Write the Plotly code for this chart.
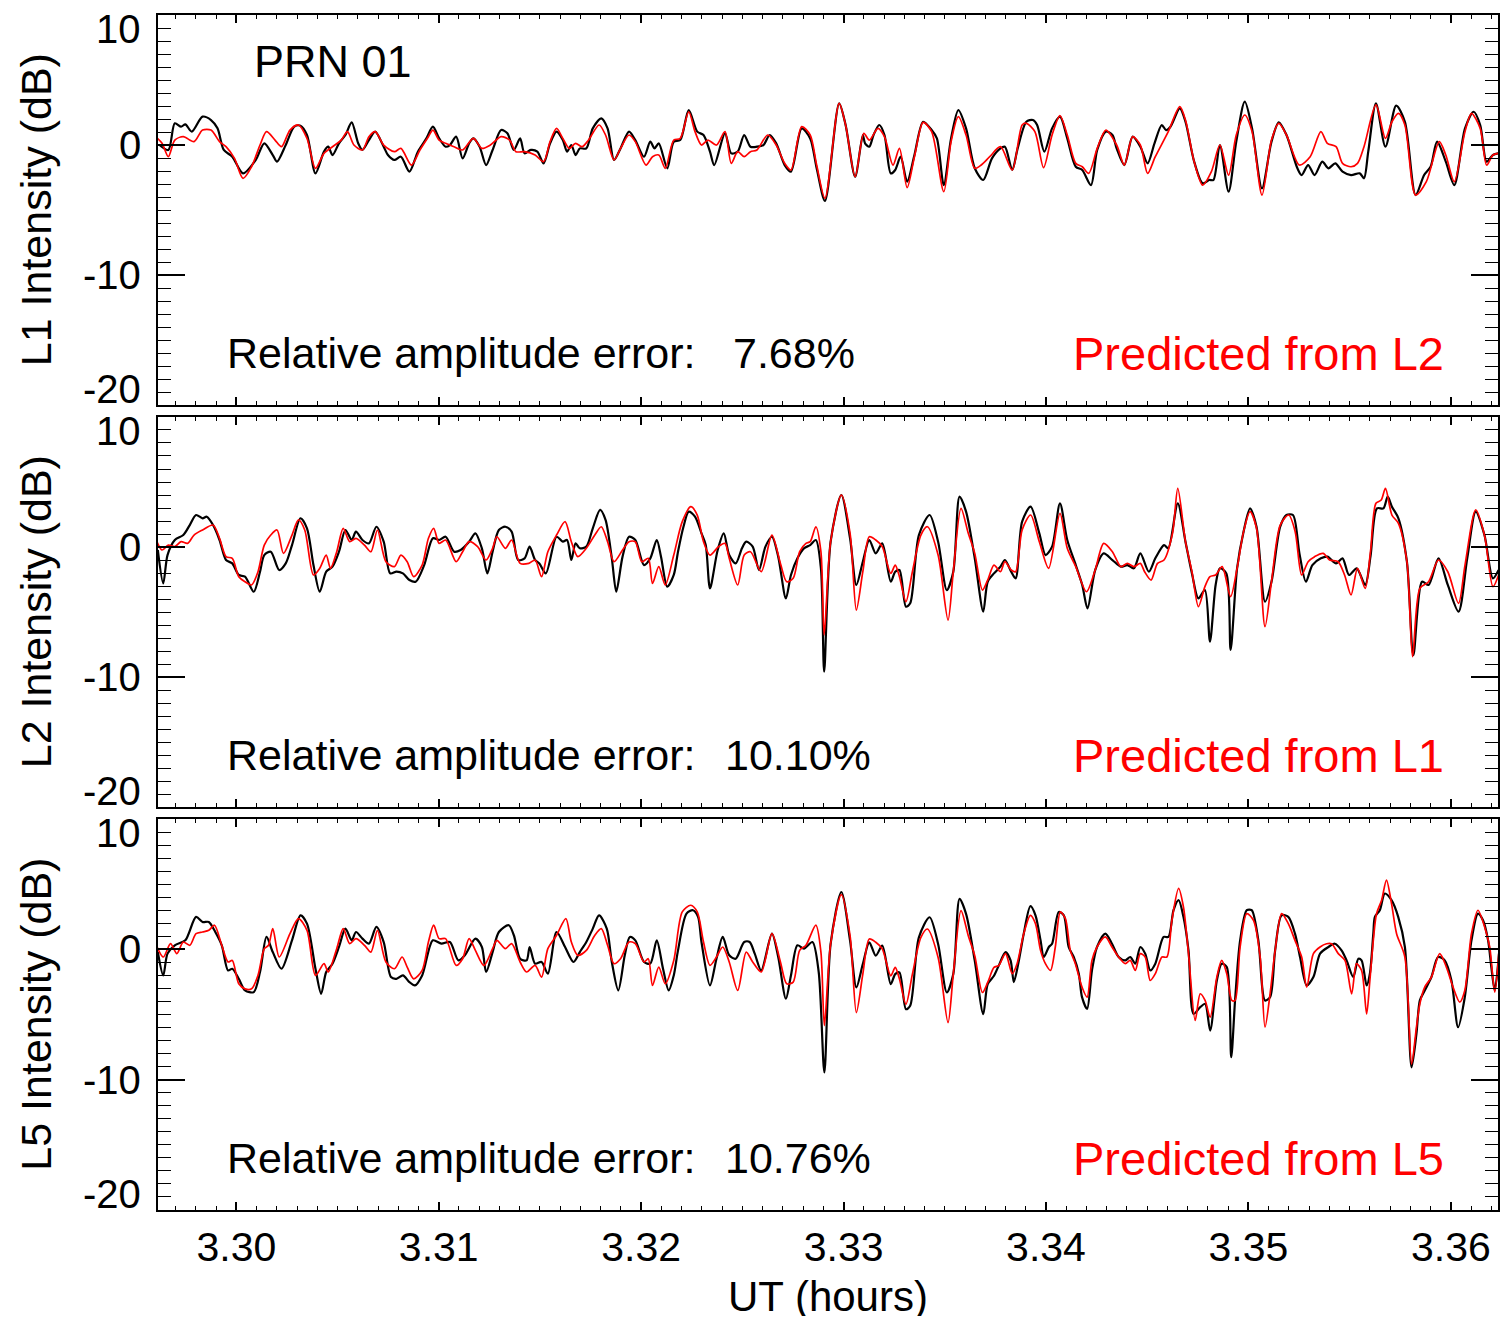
import plotly.graph_objects as go
from plotly.subplots import make_subplots

# ---------------- data (UT hours, dB) ----------------
L1_MEAS = [
(3.29620,0.00),(3.29664,-0.38),(3.29696,1.67),(3.29727,1.41),(3.29748,1.59),(3.29780,1.03),(3.29833,2.18),(3.29875,1.92),
(3.29907,1.28),(3.29938,-0.38),(3.29980,-0.90),(3.30033,-2.18),(3.30096,-1.15),(3.30138,0.13),(3.30180,-0.77),(3.30201,-1.28),
(3.30244,0.00),(3.30286,1.41),(3.30317,1.49),(3.30349,0.77),(3.30391,-2.18),(3.30433,-0.51),(3.30454,-0.13),(3.30475,-0.77),
(3.30507,0.13),(3.30539,0.77),(3.30570,1.74),(3.30602,0.13),(3.30623,-0.38),(3.30655,0.38),(3.30686,1.03),(3.30728,-0.13),
(3.30749,-0.77),(3.30781,-1.15),(3.30813,-0.90),(3.30855,-2.05),(3.30897,-0.51),(3.30939,0.51),(3.30971,1.41),(3.31002,0.51),
(3.31034,-0.13),(3.31055,0.00),(3.31086,0.64),(3.31118,-1.03),(3.31150,0.13),(3.31171,0.51),(3.31202,-0.13),(3.31234,-1.54),
(3.31266,-0.38),(3.31308,1.15),(3.31339,0.90),(3.31371,-0.38),(3.31402,0.51),(3.31424,-0.64),(3.31455,-0.38),(3.31487,-0.51),
(3.31518,-1.41),(3.31550,0.13),(3.31582,1.03),(3.31613,0.38),(3.31634,-0.51),(3.31655,0.00),(3.31676,-0.77),(3.31697,-0.26),
(3.31729,-0.26),(3.31761,1.28),(3.31803,2.05),(3.31834,1.28),(3.31866,-1.15),(3.31898,-0.26),(3.31940,1.03),(3.31971,0.38),
(3.32014,-0.90),(3.32045,0.26),(3.32066,-0.26),(3.32087,0.13),(3.32129,-1.79),(3.32161,0.26),(3.32193,0.38),(3.32235,2.69),
(3.32277,1.03),(3.32308,0.77),(3.32340,-0.51),(3.32361,-1.54),(3.32414,0.90),(3.32445,-0.64),(3.32477,-0.51),(3.32509,0.77),
(3.32540,-0.13),(3.32572,-0.13),(3.32604,0.00),(3.32635,0.77),(3.32667,0.13),(3.32709,-1.54),(3.32740,-2.05),(3.32793,1.28),
(3.32835,0.51),(3.32867,-1.79),(3.32908,-4.30),(3.32978,3.21),(3.33010,1.54),(3.33057,-2.44),(3.33095,0.77),(3.33106,0.13),
(3.33127,-0.13),(3.33148,0.77),(3.33176,1.54),(3.33202,0.77),(3.33233,-2.18),(3.33255,-1.92),(3.33282,-0.90),(3.33314,-2.82),
(3.33350,-0.77),(3.33393,1.79),(3.33435,1.15),(3.33461,0.51),(3.33495,-3.08),(3.33531,0.51),(3.33567,2.69),(3.33605,1.28),
(3.33648,-1.79),(3.33690,-2.69),(3.33733,-1.03),(3.33775,-0.26),(3.33797,-0.13),(3.33833,-1.92),(3.33860,-0.26),(3.33903,1.79),
(3.33935,1.92),(3.33956,1.54),(3.33992,-0.51),(3.34030,1.28),(3.34069,2.18),(3.34105,0.51),(3.34147,-1.67),(3.34179,-1.92),
(3.34222,-3.08),(3.34253,-0.38),(3.34296,1.03),(3.34328,0.77),(3.34349,-0.26),(3.34387,-1.54),(3.34428,0.64),(3.34466,-0.13),
(3.34502,-1.41),(3.34536,0.13),(3.34572,1.54),(3.34593,1.15),(3.34615,1.41),(3.34661,2.82),(3.34689,1.79),(3.34732,-1.28),
(3.34774,-2.95),(3.34806,-2.69),(3.34827,-2.69),(3.34859,0.00),(3.34902,-3.59),(3.34940,0.26),(3.34982,3.33),(3.35018,1.28),
(3.35067,-3.33),(3.35114,0.26),(3.35150,1.74),(3.35188,0.77),(3.35242,-1.79),(3.35263,-2.31),(3.35295,-1.54),(3.35327,-2.31),
(3.35365,-1.28),(3.35395,-1.79),(3.35429,-1.41),(3.35465,-2.05),(3.35507,-2.31),(3.35550,-2.18),(3.35571,-2.56),(3.35592,-0.51),
(3.35630,3.21),(3.35677,-0.13),(3.35730,3.03),(3.35773,1.79),(3.35826,-3.85),(3.35868,-2.31),(3.35900,-1.67),(3.35932,0.26),
(3.35975,-1.28),(3.36017,-3.08),(3.36070,1.28),(3.36113,2.56),(3.36145,1.54),(3.36177,-1.28),(3.36208,-0.77),(3.36236,-0.64),
]

L1_PRED = [
(3.29601,0.64),(3.29633,0.13),(3.29664,-0.90),(3.29696,0.38),(3.29738,0.64),(3.29791,0.26),(3.29833,1.15),(3.29875,1.15),
(3.29917,0.26),(3.29949,-0.13),(3.29991,-1.03),(3.30033,-2.56),(3.30075,-1.67),(3.30117,0.00),(3.30149,1.03),(3.30191,0.38),
(3.30223,-0.13),(3.30265,1.15),(3.30307,1.54),(3.30349,0.51),(3.30391,-1.79),(3.30433,-0.64),(3.30475,-0.13),(3.30518,0.38),
(3.30549,1.03),(3.30581,0.00),(3.30623,-0.38),(3.30655,0.64),(3.30686,1.03),(3.30728,0.00),(3.30781,-0.51),(3.30813,-0.26),
(3.30865,-1.54),(3.30907,-0.38),(3.30949,0.64),(3.30971,1.15),(3.31002,0.38),(3.31034,0.13),(3.31076,-0.13),(3.31118,-0.38),
(3.31171,0.51),(3.31213,-0.26),(3.31255,0.00),(3.31308,0.64),(3.31350,0.38),(3.31381,-0.51),(3.31424,-0.51),(3.31476,-0.77),
(3.31518,-1.28),(3.31550,0.26),(3.31582,1.28),(3.31613,0.51),(3.31645,-0.26),(3.31676,0.13),(3.31708,-0.13),(3.31740,0.38),
(3.31792,1.54),(3.31824,0.77),(3.31866,-1.15),(3.31898,-0.26),(3.31940,0.77),(3.31971,0.26),(3.32024,-1.54),(3.32056,-0.90),
(3.32087,-0.77),(3.32119,-1.79),(3.32161,0.38),(3.32193,0.51),(3.32235,2.56),(3.32266,1.03),(3.32298,0.00),(3.32330,0.38),
(3.32372,0.00),(3.32414,1.03),(3.32445,-1.41),(3.32477,-0.51),(3.32509,-0.90),(3.32540,-0.51),(3.32572,-0.38),(3.32625,0.77),
(3.32667,0.00),(3.32709,-1.41),(3.32740,-1.92),(3.32793,1.41),(3.32835,0.77),(3.32867,-1.54),(3.32908,-4.10),(3.32978,3.21),
(3.33010,1.54),(3.33057,-2.44),(3.33100,0.90),(3.33127,0.38),(3.33170,1.28),(3.33202,0.64),(3.33244,-1.54),(3.33276,-0.26),
(3.33314,-3.28),(3.33350,-0.90),(3.33393,1.74),(3.33435,1.03),(3.33495,-3.59),(3.33531,0.26),(3.33567,2.18),(3.33605,0.77),
(3.33648,-1.79),(3.33680,-1.54),(3.33722,-0.90),(3.33775,-0.13),(3.33833,-1.92),(3.33882,1.54),(3.33903,1.67),(3.33945,1.03),
(3.33988,-1.74),(3.34030,0.77),(3.34069,2.26),(3.34105,0.77),(3.34147,-1.41),(3.34179,-1.67),(3.34211,-2.18),(3.34253,-0.26),
(3.34296,1.15),(3.34349,0.00),(3.34387,-1.54),(3.34428,0.64),(3.34466,0.00),(3.34502,-2.18),(3.34540,-0.90),(3.34604,1.03),
(3.34661,2.95),(3.34689,1.92),(3.34732,-1.28),(3.34774,-3.08),(3.34817,-2.05),(3.34859,0.00),(3.34902,-2.31),(3.34940,0.77),
(3.34982,2.31),(3.35018,1.03),(3.35067,-3.85),(3.35114,0.38),(3.35150,1.67),(3.35188,0.77),(3.35252,-1.54),(3.35305,-0.90),
(3.35358,1.03),(3.35390,0.13),(3.35433,-0.13),(3.35465,-1.41),(3.35507,-1.67),(3.35539,-1.41),(3.35571,-0.13),(3.35630,3.08),
(3.35677,0.51),(3.35709,1.79),(3.35741,2.44),(3.35773,1.54),(3.35826,-3.85),(3.35879,-2.82),(3.35943,0.26),(3.35975,-0.77),
(3.36017,-2.82),(3.36070,1.03),(3.36102,2.44),(3.36145,1.28),(3.36177,-1.54),(3.36208,-0.77),(3.36236,-0.64),
]

L2_MEAS = [
(3.29612,-0.23),(3.29639,-2.80),(3.29660,-0.62),(3.29696,0.54),(3.29738,0.92),(3.29770,1.69),(3.29801,2.46),(3.29833,2.21),
(3.29854,2.33),(3.29885,1.69),(3.29917,0.54),(3.29949,-1.00),(3.29980,-1.26),(3.30012,-2.15),(3.30043,-2.28),(3.30086,-3.44),
(3.30117,-1.90),(3.30138,-0.62),(3.30170,-0.36),(3.30212,-1.77),(3.30244,-1.26),(3.30275,0.15),(3.30317,2.21),(3.30349,1.44),
(3.30381,-1.39),(3.30412,-3.44),(3.30444,-1.90),(3.30475,-1.51),(3.30507,-0.36),(3.30539,1.31),(3.30570,0.54),(3.30591,1.18),
(3.30623,0.54),(3.30655,0.28),(3.30692,1.56),(3.30728,0.41),(3.30760,-2.03),(3.30791,-1.90),(3.30823,-2.03),(3.30855,-2.54),
(3.30886,-2.67),(3.30928,-1.39),(3.30971,0.67),(3.31002,0.54),(3.31034,0.79),(3.31076,-0.36),(3.31108,-0.23),(3.31150,0.41),
(3.31181,1.05),(3.31213,-0.10),(3.31240,-2.03),(3.31266,-0.36),(3.31297,1.31),(3.31329,1.56),(3.31360,1.18),(3.31392,-1.00),
(3.31424,-0.87),(3.31449,0.03),(3.31476,-1.00),(3.31497,-1.26),(3.31529,-2.03),(3.31582,0.79),(3.31613,0.41),(3.31634,0.54),
(3.31655,-1.00),(3.31676,0.28),(3.31697,-0.10),(3.31729,0.03),(3.31761,1.44),(3.31797,2.85),(3.31824,2.08),(3.31855,-0.87),
(3.31877,-3.44),(3.31908,-0.74),(3.31940,0.79),(3.31971,0.54),(3.32014,-1.39),(3.32045,-0.87),(3.32077,0.54),(3.32098,-0.74),
(3.32129,-3.05),(3.32161,-2.15),(3.32182,-0.36),(3.32209,1.56),(3.32235,2.72),(3.32266,2.33),(3.32298,1.05),(3.32319,0.15),
(3.32340,-3.18),(3.32378,-0.23),(3.32408,1.05),(3.32435,-0.62),(3.32467,-1.26),(3.32498,-0.10),(3.32519,0.41),(3.32551,0.03),
(3.32582,-1.77),(3.32614,0.03),(3.32646,0.79),(3.32677,-0.74),(3.32715,-3.95),(3.32740,-2.15),(3.32772,-0.87),(3.32804,-0.10),
(3.32835,0.15),(3.32863,0.54),(3.32888,-1.64),(3.32904,-9.59),(3.32936,0.41),(3.32989,4.00),(3.33032,0.67),(3.33063,-2.92),
(3.33095,-1.13),(3.33127,0.54),(3.33159,-0.49),(3.33191,0.28),(3.33233,-2.67),(3.33255,-1.90),(3.33276,-1.77),(3.33308,-4.59),
(3.33329,-4.33),(3.33372,0.92),(3.33425,2.46),(3.33467,0.41),(3.33510,-3.31),(3.33542,-1.90),(3.33573,3.87),(3.33605,2.72),
(3.33648,-0.87),(3.33690,-4.97),(3.33712,-2.67),(3.33743,-2.03),(3.33775,-1.51),(3.33797,-1.00),(3.33828,-1.90),(3.33850,-2.41),
(3.33882,1.95),(3.33924,3.10),(3.33967,1.05),(3.33998,-0.62),(3.34030,0.03),(3.34069,3.36),(3.34105,0.54),(3.34147,-1.39),
(3.34179,-2.92),(3.34205,-4.72),(3.34243,-1.77),(3.34285,-0.49),(3.34328,-1.00),(3.34370,-1.51),(3.34402,-1.39),(3.34434,-1.64),
(3.34466,-0.49),(3.34508,-1.90),(3.34540,-0.87),(3.34583,0.15),(3.34604,-0.10),(3.34651,3.36),(3.34689,0.41),(3.34721,-2.03),
(3.34753,-3.95),(3.34785,-3.31),(3.34810,-7.28),(3.34838,-2.92),(3.34859,-1.64),(3.34891,-2.03),(3.34912,-7.92),(3.34944,-1.64),
(3.34976,1.18),(3.35008,2.97),(3.35040,1.56),(3.35082,-4.21),(3.35114,-2.67),(3.35157,1.56),(3.35188,2.46),(3.35220,2.46),
(3.35252,-0.49),(3.35284,-2.67),(3.35316,-1.39),(3.35358,-0.87),(3.35390,-0.74),(3.35433,-1.26),(3.35465,-0.87),(3.35497,-2.15),
(3.35535,-1.64),(3.35577,-2.92),(3.35603,-0.74),(3.35635,2.97),(3.35667,2.97),(3.35688,3.87),(3.35709,3.10),(3.35741,2.21),
(3.35783,-1.13),(3.35815,-8.31),(3.35858,-2.67),(3.35890,-2.92),(3.35939,-0.87),(3.35985,-2.92),(3.36038,-4.97),(3.36081,-0.87),
(3.36123,2.72),(3.36166,0.92),(3.36208,-2.41),(3.36236,-1.77),
]

L2_PRED = [
(3.29601,0.67),(3.29633,-0.23),(3.29664,0.15),(3.29696,0.03),(3.29727,0.41),(3.29759,0.28),(3.29791,0.92),(3.29833,1.31),
(3.29885,1.69),(3.29917,0.67),(3.29949,-0.74),(3.29980,-0.87),(3.30012,-2.28),(3.30043,-2.67),(3.30075,-2.92),(3.30107,-1.90),
(3.30138,0.15),(3.30170,0.92),(3.30201,1.31),(3.30233,-0.49),(3.30275,0.92),(3.30307,2.08),(3.30338,1.31),(3.30381,-2.15),
(3.30412,-1.64),(3.30444,-0.62),(3.30465,-1.64),(3.30496,-0.36),(3.30528,1.44),(3.30560,0.41),(3.30591,0.67),(3.30633,0.15),
(3.30665,-0.36),(3.30697,1.31),(3.30739,-1.13),(3.30781,-1.51),(3.30813,-0.62),(3.30844,-1.13),(3.30876,-2.28),(3.30918,-1.39),
(3.30949,0.67),(3.30975,1.44),(3.31002,0.28),(3.31034,0.54),(3.31086,-1.13),(3.31118,-0.36),(3.31150,0.41),(3.31192,0.03),
(3.31234,-1.00),(3.31266,-0.10),(3.31287,0.79),(3.31329,-0.10),(3.31360,0.54),(3.31402,-1.26),(3.31445,-1.26),(3.31476,-1.00),
(3.31508,-2.28),(3.31539,-0.36),(3.31582,0.92),(3.31624,1.95),(3.31655,0.41),(3.31687,-0.74),(3.31729,-0.10),(3.31771,0.92),
(3.31803,1.56),(3.31834,0.41),(3.31866,-1.13),(3.31908,-0.23),(3.31940,0.41),(3.31971,0.41),(3.32003,-1.13),(3.32035,-0.87),
(3.32056,-2.80),(3.32087,-1.51),(3.32119,-2.92),(3.32161,-0.62),(3.32203,1.95),(3.32245,3.10),(3.32277,2.46),(3.32308,0.41),
(3.32340,-0.62),(3.32382,0.03),(3.32414,0.28),(3.32435,-0.87),(3.32477,-2.92),(3.32509,-0.62),(3.32540,-0.36),(3.32593,-1.90),
(3.32646,0.92),(3.32688,-1.26),(3.32719,-2.67),(3.32751,-2.41),(3.32783,-0.36),(3.32814,0.28),(3.32835,0.41),(3.32863,1.56),
(3.32888,-0.36),(3.32904,-6.77),(3.32936,0.41),(3.32989,4.00),(3.33032,1.05),(3.33063,-4.85),(3.33095,-1.90),(3.33127,0.79),
(3.33159,0.54),(3.33191,0.03),(3.33233,-2.03),(3.33255,-1.39),(3.33276,-2.28),(3.33308,-4.21),(3.33340,-1.90),(3.33382,0.92),
(3.33414,1.56),(3.33467,-0.62),(3.33516,-5.62),(3.33542,-1.90),(3.33580,2.97),(3.33616,1.05),(3.33648,-0.49),(3.33686,-3.31),
(3.33712,-2.54),(3.33743,-1.39),(3.33775,-1.90),(3.33797,-1.13),(3.33828,-1.77),(3.33850,-1.90),(3.33882,1.31),(3.33924,2.46),
(3.33967,0.41),(3.34013,-1.64),(3.34069,2.59),(3.34105,-0.10),(3.34147,-1.51),(3.34200,-3.44),(3.34243,-1.77),(3.34285,0.28),
(3.34328,-0.36),(3.34370,-1.51),(3.34402,-1.26),(3.34434,-1.51),(3.34466,-1.26),(3.34487,-1.90),(3.34519,-2.54),(3.34551,-1.26),
(3.34583,-1.00),(3.34625,1.05),(3.34651,4.51),(3.34689,0.41),(3.34721,-1.90),(3.34753,-4.59),(3.34785,-3.05),(3.34810,-2.28),
(3.34838,-2.15),(3.34870,-1.51),(3.34912,-3.82),(3.34944,-1.64),(3.34976,1.18),(3.35008,2.72),(3.35040,1.44),(3.35082,-6.13),
(3.35114,-2.67),(3.35157,1.69),(3.35199,2.46),(3.35231,1.18),(3.35263,-2.15),(3.35295,-1.13),(3.35327,-0.74),(3.35369,-0.49),
(3.35401,-1.00),(3.35443,-1.13),(3.35475,-2.15),(3.35507,-3.69),(3.35539,-1.64),(3.35577,-3.18),(3.35603,-0.36),(3.35630,3.36),
(3.35656,3.61),(3.35677,4.51),(3.35709,2.46),(3.35741,1.82),(3.35783,-1.13),(3.35811,-8.44),(3.35847,-3.18),(3.35890,-2.67),
(3.35939,-1.00),(3.35985,-1.90),(3.36038,-4.33),(3.36070,-1.39),(3.36123,2.85),(3.36166,0.92),(3.36208,-3.05),(3.36236,-2.15),
]

L5_MEAS = [
(3.29612,-0.21),(3.29639,-2.00),(3.29660,-0.33),(3.29696,0.31),(3.29748,0.69),(3.29801,2.49),(3.29833,2.10),(3.29864,2.10),
(3.29896,1.33),(3.29928,0.31),(3.29959,-1.62),(3.29980,-1.49),(3.30012,-2.26),(3.30043,-3.15),(3.30086,-3.28),(3.30117,-1.74),
(3.30149,0.95),(3.30180,-0.21),(3.30223,-1.49),(3.30275,0.69),(3.30317,2.61),(3.30349,1.97),(3.30391,-1.49),(3.30419,-3.41),
(3.30444,-1.74),(3.30475,-1.10),(3.30507,0.18),(3.30539,1.59),(3.30570,0.69),(3.30591,1.33),(3.30623,0.82),(3.30655,0.44),
(3.30692,1.72),(3.30728,0.56),(3.30764,-2.13),(3.30791,-2.26),(3.30823,-2.00),(3.30855,-2.51),(3.30882,-2.77),(3.30918,-2.00),
(3.30971,0.69),(3.31013,0.44),(3.31055,0.56),(3.31097,-0.85),(3.31129,-0.46),(3.31181,0.82),(3.31213,0.18),(3.31234,-1.74),
(3.31266,-0.21),(3.31297,1.33),(3.31346,1.85),(3.31371,1.08),(3.31402,-0.72),(3.31434,-0.85),(3.31449,0.18),(3.31476,-1.10),
(3.31508,-0.97),(3.31539,-1.87),(3.31582,1.33),(3.31624,0.18),(3.31666,-0.97),(3.31697,-0.21),(3.31729,0.56),(3.31761,1.59),
(3.31792,2.61),(3.31830,1.59),(3.31855,-0.97),(3.31887,-3.15),(3.31919,-0.46),(3.31944,0.95),(3.31971,0.69),(3.32014,-0.97),
(3.32045,-1.10),(3.32077,0.69),(3.32108,-1.49),(3.32136,-3.15),(3.32161,-2.00),(3.32182,-0.08),(3.32224,2.74),(3.32256,3.00),
(3.32281,2.49),(3.32298,0.56),(3.32340,-2.77),(3.32372,-0.72),(3.32403,0.95),(3.32435,-0.46),(3.32467,-0.72),(3.32509,0.56),
(3.32536,0.56),(3.32561,-0.33),(3.32593,-1.62),(3.32646,1.20),(3.32677,-0.59),(3.32715,-3.79),(3.32740,-2.00),(3.32772,0.31),
(3.32804,0.05),(3.32846,0.56),(3.32877,-1.74),(3.32905,-9.44),(3.32936,0.41),(3.32989,4.40),(3.33032,0.67),(3.33063,-2.92),
(3.33095,-1.13),(3.33127,0.54),(3.33159,-0.49),(3.33191,0.28),(3.33233,-2.67),(3.33255,-1.90),(3.33276,-1.77),(3.33308,-4.59),
(3.33329,-4.33),(3.33372,0.92),(3.33425,2.46),(3.33467,0.41),(3.33510,-3.31),(3.33542,-1.90),(3.33573,3.87),(3.33605,2.72),
(3.33648,-0.87),(3.33690,-4.97),(3.33712,-2.67),(3.33743,-2.03),
(3.33767,-1.23),(3.33800,-0.21),(3.33825,-0.85),(3.33841,-2.51),(3.33866,-0.85),(3.33890,1.20),(3.33923,3.31),(3.33948,2.61),
(3.33973,0.69),(3.33989,-0.59),(3.34014,0.18),(3.34030,0.43),(3.34063,2.87),(3.34088,2.61),(3.34112,0.18),(3.34137,-0.59),
(3.34162,-1.87),(3.34178,-3.67),(3.34203,-4.57),(3.34227,-1.62),(3.34252,0.18),(3.34293,1.20),(3.34326,0.43),(3.34359,-0.59),
(3.34392,-0.85),(3.34416,-0.59),(3.34441,-1.10),(3.34466,0.18),(3.34490,-0.33),(3.34515,-1.62),(3.34540,-1.10),(3.34581,0.95),
(3.34605,0.95),(3.34630,3.00),(3.34655,3.77),(3.34679,2.49),(3.34704,-0.08),(3.34729,-4.95),(3.34762,-4.44),(3.34786,-4.18),
(3.34811,-6.23),(3.34844,-2.39),(3.34868,-1.10),(3.34893,-1.36),(3.34915,-8.28),(3.34934,-3.92),(3.34959,0.69),(3.34992,3.00),
(3.35016,3.00),(3.35049,0.69),(3.35082,-3.92),(3.35107,-3.67),(3.35132,-0.08),(3.35164,2.61),(3.35197,2.49),(3.35230,1.20),
(3.35255,-0.59),(3.35288,-2.77),(3.35321,-2.13),(3.35354,-0.33),(3.35395,0.18),(3.35427,0.43),(3.35460,-0.08),(3.35485,-0.85),
(3.35518,-2.13),(3.35543,-0.72),(3.35559,-0.85),(3.35584,-2.77),(3.35600,-1.87),(3.35617,1.20),(3.35625,2.49),(3.35649,3.00),
(3.35674,4.28),(3.35707,3.77),(3.35740,2.49),(3.35773,0.18),(3.35806,-9.05),(3.35830,-6.49),(3.35847,-3.92),(3.35871,-3.16),
(3.35904,-2.13),(3.35937,-0.59),(3.35970,-0.85),(3.36003,-2.39),(3.36036,-5.98),(3.36069,-3.67),(3.36102,0.69),(3.36134,2.74),
(3.36159,2.23),(3.36184,0.69),(3.36200,-1.36),(3.36217,-3.16),(3.36238,-0.33),
]

L5_PRED = [
(3.29601,0.44),(3.29639,-0.59),(3.29675,0.44),(3.29706,-0.33),(3.29738,0.56),(3.29770,0.31),(3.29801,1.20),(3.29833,1.33),
(3.29864,1.46),(3.29892,1.85),(3.29928,0.31),(3.29959,-0.97),(3.29980,-0.85),(3.30012,-2.64),(3.30043,-3.03),(3.30075,-3.03),
(3.30107,-2.00),(3.30138,0.05),(3.30159,0.31),(3.30180,1.59),(3.30212,-0.59),(3.30265,1.20),(3.30307,2.36),(3.30349,1.46),
(3.30391,-2.00),(3.30433,-1.10),(3.30454,-1.74),(3.30496,0.05),(3.30528,1.59),(3.30560,0.44),(3.30591,0.82),(3.30633,0.31),
(3.30665,-0.21),(3.30697,1.46),(3.30739,-0.97),(3.30781,-1.49),(3.30819,-0.59),(3.30844,-1.36),(3.30876,-2.26),(3.30918,-1.62),
(3.30949,0.56),(3.30975,1.85),(3.31002,0.82),(3.31034,0.82),(3.31086,-1.23),(3.31118,-0.72),(3.31150,0.82),(3.31181,-0.08),
(3.31223,-1.23),(3.31266,0.05),(3.31287,0.69),(3.31329,0.05),(3.31360,0.44),(3.31402,-0.97),(3.31434,-1.74),(3.31476,-1.23),
(3.31508,-2.13),(3.31539,0.05),(3.31582,1.08),(3.31628,2.36),(3.31655,0.56),(3.31687,-0.46),(3.31729,-0.08),(3.31771,1.08),
(3.31803,1.59),(3.31834,0.31),(3.31866,-1.10),(3.31898,-0.72),(3.31940,0.56),(3.31971,0.44),(3.32014,-0.97),(3.32035,-0.72),
(3.32056,-2.77),(3.32087,-1.36),(3.32119,-2.64),(3.32161,-0.85),(3.32203,2.87),(3.32245,3.38),(3.32277,2.87),(3.32308,0.56),
(3.32340,-1.23),(3.32372,-0.59),(3.32403,0.18),(3.32435,-0.97),(3.32477,-3.15),(3.32519,-0.21),(3.32551,-0.97),(3.32593,-1.74),
(3.32646,1.20),(3.32688,-0.97),(3.32719,-2.64),(3.32751,-2.51),(3.32783,-0.08),(3.32814,0.31),(3.32863,1.85),(3.32888,-0.21),
(3.32905,-5.85),(3.32936,0.41),(3.32989,4.20),(3.33032,1.05),(3.33063,-4.85),(3.33095,-1.90),(3.33127,0.79),
(3.33159,0.54),(3.33191,0.03),(3.33233,-2.03),(3.33255,-1.39),(3.33276,-2.28),(3.33308,-4.21),(3.33340,-1.90),(3.33382,0.92),
(3.33414,1.56),(3.33467,-0.62),(3.33516,-5.62),(3.33542,-1.90),(3.33580,2.97),(3.33616,1.05),(3.33648,-0.49),(3.33686,-3.31),
(3.33712,-2.54),(3.33743,-1.39),
(3.33767,-1.23),(3.33800,-0.33),(3.33833,-1.87),(3.33857,-1.10),(3.33890,1.20),(3.33923,2.61),(3.33948,1.97),(3.33973,-0.08),
(3.33997,-1.10),(3.34022,-1.62),(3.34046,0.18),(3.34071,2.87),(3.34096,2.36),(3.34120,-0.08),(3.34145,-1.10),(3.34178,-2.90),
(3.34203,-3.67),(3.34227,-0.85),(3.34252,0.18),(3.34293,0.95),(3.34326,0.18),(3.34359,-0.59),(3.34392,-1.10),(3.34416,-0.85),
(3.34441,-1.62),(3.34466,-0.33),(3.34490,-0.59),(3.34515,-2.39),(3.34540,-1.87),(3.34573,-0.59),(3.34597,-0.59),(3.34622,2.23),
(3.34655,4.67),(3.34679,3.25),(3.34704,-0.33),(3.34737,-5.46),(3.34762,-3.41),(3.34786,-3.92),(3.34811,-5.21),(3.34844,-2.13),
(3.34868,-0.85),(3.34893,-1.87),(3.34918,-3.92),(3.34934,-3.92),(3.34959,0.18),(3.34992,2.74),(3.35025,2.23),(3.35058,-0.59),
(3.35082,-5.98),(3.35107,-3.41),(3.35132,-0.08),(3.35164,2.74),(3.35197,1.97),(3.35230,0.69),(3.35263,-0.59),(3.35288,-2.90),
(3.35321,-0.33),(3.35354,0.18),(3.35386,0.43),(3.35411,0.43),(3.35444,-0.33),(3.35477,-0.85),(3.35510,-3.41),(3.35534,-1.10),
(3.35559,-1.62),(3.35584,-4.95),(3.35600,-2.39),(3.35617,0.69),(3.35633,2.74),(3.35658,3.77),(3.35682,5.31),(3.35707,3.51),
(3.35732,1.20),(3.35773,-0.59),(3.35806,-8.80),(3.35830,-5.98),(3.35847,-4.18),(3.35871,-2.90),(3.35904,-2.13),(3.35945,-0.33),
(3.35978,-1.36),(3.36011,-2.90),(3.36044,-4.05),(3.36069,-3.16),(3.36102,1.20),(3.36134,3.00),(3.36167,1.72),(3.36192,0.18),
(3.36217,-3.28),(3.36238,-0.08),
]

Y_TITLES = ["L1 Intensity (dB)", "L2 Intensity (dB)", "L5 Intensity (dB)"]
ERRORS = ["7.68%", "10.10%", "10.76%"]
PRED_LABELS = ["Predicted from L2", "Predicted from L1", "Predicted from L5"]
X_TICKS = [3.30, 3.31, 3.32, 3.33, 3.34, 3.35, 3.36]
Y_TICKS = [-20, -10, 0, 10]
Y_TICKTEXT = ["-20", "-10", "0", "10"]
X_RANGE = [3.29613, 3.36233]
Y_RANGE = [-20, 10]

FONT = "Liberation Sans, Arial, Helvetica, sans-serif"

fig = make_subplots(rows=3, cols=1)
panels = [(L1_MEAS, L1_PRED), (L2_MEAS, L2_PRED), (L5_MEAS, L5_PRED)]
for i, (meas, pred) in enumerate(panels):
    r = i + 1
    fig.add_trace(go.Scatter(x=[p[0] for p in meas], y=[p[1] for p in meas], mode="lines",
                             line=dict(color="black", width=2.2, shape="spline", smoothing=0.8),
                             showlegend=False), row=r, col=1)
    fig.add_trace(go.Scatter(x=[p[0] for p in pred], y=[p[1] for p in pred], mode="lines",
                             line=dict(color="#ff0000", width=1.7, shape="spline", smoothing=0.8),
                             showlegend=False), row=r, col=1)

domains = [[0.6736, 1.0], [0.3372, 0.6636], [0.0, 0.3272]]
for i in range(3):
    xa = "xaxis" if i == 0 else f"xaxis{i+1}"
    ya = "yaxis" if i == 0 else f"yaxis{i+1}"
    fig.layout[xa].update(
        domain=[0, 1], range=X_RANGE, tickmode="array", tickvals=X_TICKS,
        ticktext=[f"{v:.2f}" for v in X_TICKS], showticklabels=(i == 2),
        ticks="inside", ticklen=8, tickwidth=1.5, tickcolor="black",
        showline=True, linecolor="black", linewidth=2, mirror="allticks",
        showgrid=False, zeroline=False,
        tickfont=dict(family=FONT, size=41, color="black"),
        minor=dict(tickmode="linear", tick0=3.30, dtick=0.001, ticks="inside",
                   ticklen=4, tickwidth=1.2, tickcolor="black", showgrid=False),
    )
    fig.layout[ya].update(
        domain=domains[i], range=Y_RANGE, tickmode="array", tickvals=Y_TICKS,
        ticktext=Y_TICKTEXT, showticklabels=False,
        ticks="inside", ticklen=27, tickwidth=1.5, tickcolor="black",
        showline=True, linecolor="black", linewidth=2, mirror="allticks",
        showgrid=False, zeroline=False,
        minor=dict(tickmode="linear", tick0=0, dtick=1, ticks="inside",
                   ticklen=13, tickwidth=1.2, tickcolor="black", showgrid=False),
    )

# y tick labels: the outermost ones sit just inside the panel edges
Y_LABEL_POS = [-18.8, -10.0, 0.0, 8.95]

ann = []
centers = [0.8368, 0.5004, 0.1636]
for i in range(3):
    xr = "x" if i == 0 else f"x{i+1}"
    yr = "y" if i == 0 else f"y{i+1}"
    for lab, pos in zip(Y_TICKTEXT, Y_LABEL_POS):
        ann.append(dict(text=lab, xref="paper", yref=yr, x=-0.0112, y=pos, showarrow=False,
                        xanchor="right", yanchor="middle", height=34,
                        font=dict(family=FONT, size=40, color="black")))
    ann.append(dict(text=Y_TITLES[i], xref="paper", yref="paper", x=-0.0909, y=centers[i],
                    textangle=-90, showarrow=False, xanchor="center", yanchor="middle",
                    font=dict(family=FONT, size=43, color="black")))
    ann.append(dict(text="Relative amplitude error:", xref=xr, yref=yr, x=3.29946, y=-16.0,
                    showarrow=False, xanchor="left", yanchor="middle",
                    font=dict(family=FONT, size=43, color="black")))
    ann.append(dict(text=ERRORS[i], xref=xr, yref=yr, x=(3.32446 if i == 0 else 3.32406), y=-16.0,
                    showarrow=False, xanchor="left", yanchor="middle",
                    font=dict(family=FONT, size=43, color="black")))
    ann.append(dict(text=PRED_LABELS[i], xref=xr, yref=yr, x=3.35975, y=-16.05,
                    showarrow=False, xanchor="right", yanchor="middle",
                    font=dict(family=FONT, size=47, color="#ff0000")))
ann.append(dict(text="PRN 01", xref="x", yref="y", x=3.30079, y=6.4, showarrow=False,
                xanchor="left", yanchor="middle", font=dict(family=FONT, size=45, color="black")))
ann.append(dict(text="UT (hours)", xref="paper", yref="paper", x=0.5, y=-0.0720, showarrow=False,
                xanchor="center", yanchor="middle", height=40,
                font=dict(family=FONT, size=42, color="black")))

fig.update_layout(
    width=1501, height=1319, margin=dict(l=158, r=1, t=15, b=109),
    paper_bgcolor="white", plot_bgcolor="white", annotations=ann, showlegend=False,
)
fig.write_html("out.html")
